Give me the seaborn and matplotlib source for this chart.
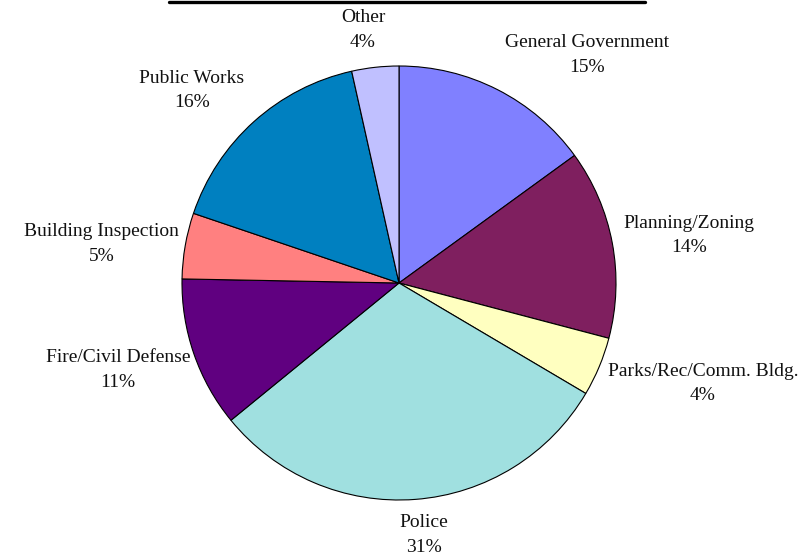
import matplotlib
matplotlib.use("Agg")
import matplotlib.pyplot as plt
import seaborn as sns
from matplotlib.lines import Line2D

# ---- data ----
categories = ["General Government", "Planning/Zoning", "Parks/Rec/Comm. Bldg.",
              "Police", "Fire/Civil Defense", "Building Inspection",
              "Public Works", "Other"]
shares = [15.0, 14.1, 4.4, 30.6, 11.2, 4.9, 16.3, 3.5]

# ---- style ----
colors = ["#8080FF", "#7F1F5F", "#FFFFC0", "#A0E0E0",
          "#600080", "#FF8080", "#0080C0", "#C0C0FF"]
# label block centres (data units, pie radius = 1)
label_xy = [(0.866, 1.051), (1.336, 0.217), (1.400, -0.465), (0.115, -1.161),
            (-1.295, -0.401), (-1.369, 0.180), (-0.954, 0.889), (-0.166, 1.166)]

sns.set_theme(style="white")
plt.rcParams["font.family"] = ["Liberation Serif", "DejaVu Serif"]

W, H = 800, 557
fig = plt.figure(figsize=(W / 100, H / 100), dpi=100)
ax = fig.add_axes([0, 0, 1, 1])

ax.pie(shares, colors=colors, startangle=90, counterclock=False,
       wedgeprops=dict(edgecolor="black", linewidth=0.8))

for cat, v, (x, y) in zip(categories, shares, label_xy):
    ax.text(x, y, f"{cat}\n{v:.0f}%", ha="center", va="center",
            fontsize=14, color="#111111", linespacing=1.55)

# place pie: centre at (399, 283) px, radius 217 px
cx, cy, r = 399, 283, 217
ax.set_xlim(-cx / r, (W - cx) / r)
ax.set_ylim(-(H - cy) / r, cy / r)
ax.set_aspect("auto")
ax.axis("off")

# top rule
fig.add_artist(Line2D([169 / W, 645 / W], [1 - 1.5 / H, 1 - 1.5 / H],
                      color="black", linewidth=2.4, transform=fig.transFigure))

fig.savefig("out.png", dpi=100, facecolor="white")
